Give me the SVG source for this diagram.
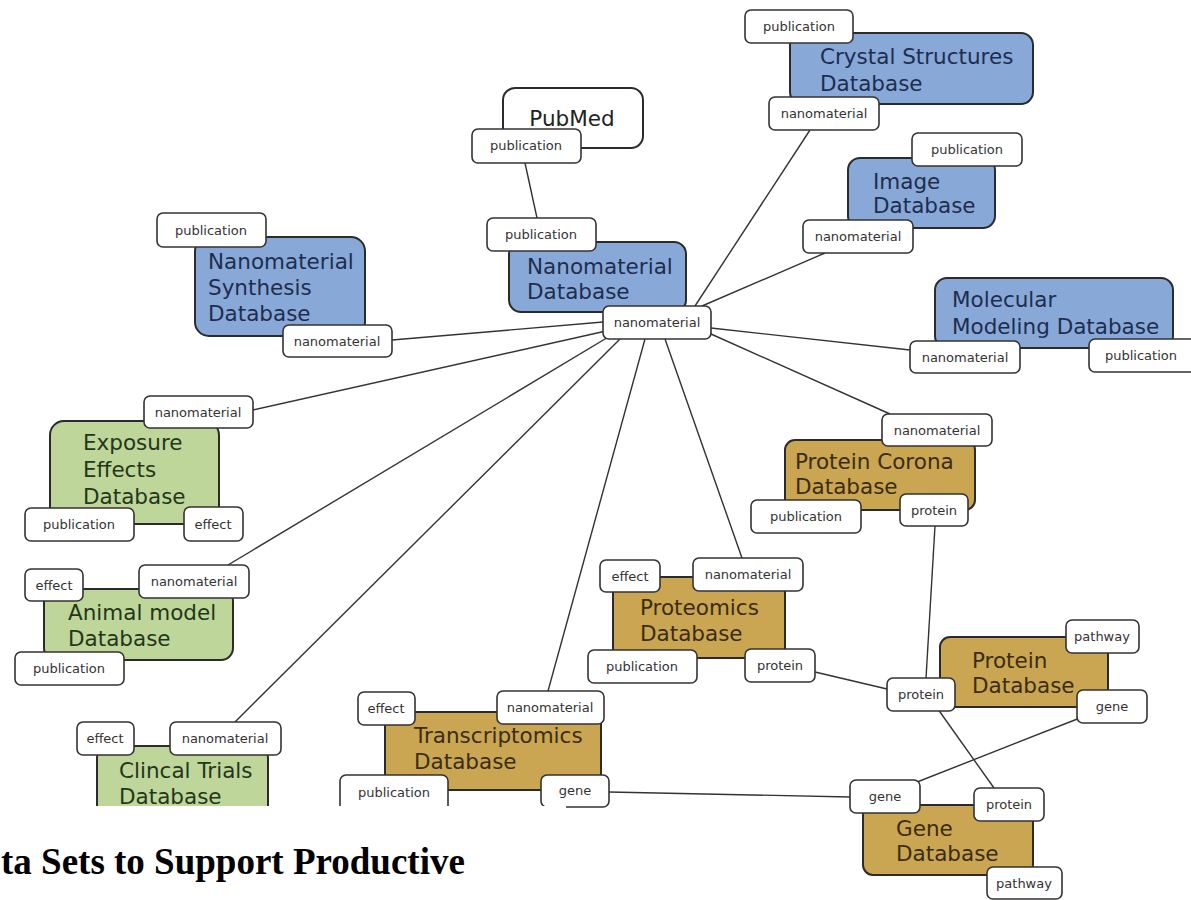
<svg xmlns="http://www.w3.org/2000/svg" width="1191" height="900" viewBox="0 0 1191 900">
<style>
.box{stroke:#2b2b2b;stroke-width:2}
.blue{fill:#88a9d8}
.green{fill:#bed699}
.gold{fill:#caa552}
.white{fill:#ffffff}
.t{font-family:"DejaVu Sans",sans-serif;font-size:21.5px}
.tb{fill:#1e2d4e}
.tg{fill:#24361a}
.to{fill:#3a2d10}
.tw{fill:#222}
.lab rect{fill:#fff;stroke:#333;stroke-width:1.6}
.lab text{font-family:"DejaVu Sans",sans-serif;font-size:13px;fill:#333;text-anchor:middle}
.conn line{stroke:#333;stroke-width:1.4}
</style>
<rect width="1191" height="900" fill="#fff"/>
<g id="connectors" class="conn">
<line x1="695" y1="306" x2="810" y2="130"/>
<line x1="702" y1="306" x2="825" y2="253"/>
<line x1="603" y1="322" x2="392" y2="340"/>
<line x1="711" y1="328" x2="910" y2="350"/>
<line x1="606" y1="331" x2="253" y2="410"/>
<line x1="610" y1="336" x2="228" y2="565"/>
<line x1="620" y1="339" x2="235" y2="722"/>
<line x1="645" y1="339" x2="548" y2="691"/>
<line x1="665" y1="339" x2="742" y2="558"/>
<line x1="711" y1="334" x2="890" y2="414"/>
<line x1="525" y1="163" x2="537" y2="218"/>
<line x1="935" y1="526" x2="926" y2="678"/>
<line x1="815" y1="672" x2="887" y2="689"/>
<line x1="609" y1="792" x2="850" y2="797"/>
<line x1="1085" y1="716" x2="912" y2="784"/>
<line x1="935" y1="705" x2="994" y2="788"/>
</g>
<g id="crystal">
<rect class="box blue" x="790" y="33" width="243" height="71" rx="12"/>
<text class="t tb" x="820" y="64">Crystal Structures</text>
<text class="t tb" x="820" y="91">Database</text>
<g class="lab"><rect x="745" y="10" width="108" height="33" rx="6"/><text x="799" y="31">publication</text></g>
<g class="lab"><rect x="769" y="97" width="110" height="33" rx="6"/><text x="824" y="118">nanomaterial</text></g>
</g>
<g id="pubmed">
<rect class="box white" x="503" y="88" width="140" height="60" rx="12"/>
<text class="t tw" x="572" y="126" text-anchor="middle">PubMed</text>
<g class="lab"><rect x="472" y="129" width="109" height="34" rx="6"/><text x="526" y="150">publication</text></g>
</g>
<g id="image">
<rect class="box blue" x="848" y="158" width="147" height="70" rx="12"/>
<text class="t tb" x="873" y="189">Image</text>
<text class="t tb" x="873" y="213">Database</text>
<g class="lab"><rect x="912" y="133" width="110" height="33" rx="6"/><text x="967" y="154">publication</text></g>
<g class="lab"><rect x="803" y="220" width="110" height="33" rx="6"/><text x="858" y="241">nanomaterial</text></g>
</g>
<g id="nanodb">
<rect class="box blue" x="509" y="242" width="177" height="70" rx="12"/>
<text class="t tb" x="527" y="274">Nanomaterial</text>
<text class="t tb" x="527" y="299">Database</text>
<g class="lab"><rect x="487" y="218" width="109" height="33" rx="6"/><text x="541" y="239">publication</text></g>
<g class="lab"><rect x="603" y="306" width="108" height="33" rx="6"/><text x="657" y="327">nanomaterial</text></g>
</g>
<g id="synthesis">
<rect class="box blue" x="195" y="237" width="170" height="99" rx="14"/>
<text class="t tb" x="208" y="269">Nanomaterial</text>
<text class="t tb" x="208" y="295">Synthesis</text>
<text class="t tb" x="208" y="321">Database</text>
<g class="lab"><rect x="157" y="213" width="109" height="34" rx="6"/><text x="211" y="235">publication</text></g>
<g class="lab"><rect x="283" y="325" width="109" height="32" rx="6"/><text x="337" y="346">nanomaterial</text></g>
</g>
<g id="molecular">
<rect class="box blue" x="935" y="278" width="238" height="70" rx="12"/>
<text class="t tb" x="952" y="307">Molecular</text>
<text class="t tb" x="952" y="334">Modeling Database</text>
<g class="lab"><rect x="910" y="341" width="110" height="32" rx="6"/><text x="965" y="362">nanomaterial</text></g>
<g class="lab"><rect x="1089" y="339" width="108" height="33" rx="6"/><text x="1141" y="360">publication</text></g>
</g>
<g id="exposure">
<rect class="box green" x="50" y="421" width="169" height="103" rx="14"/>
<text class="t tg" x="83" y="450">Exposure</text>
<text class="t tg" x="83" y="477">Effects</text>
<text class="t tg" x="83" y="504">Database</text>
<g class="lab"><rect x="144" y="396" width="109" height="32" rx="6"/><text x="198" y="417">nanomaterial</text></g>
<g class="lab"><rect x="25" y="508" width="109" height="33" rx="6"/><text x="79" y="529">publication</text></g>
<g class="lab"><rect x="184" y="507" width="59" height="34" rx="6"/><text x="213" y="529">effect</text></g>
</g>
<g id="animal">
<rect class="box green" x="44" y="589" width="189" height="71" rx="12"/>
<text class="t tg" x="68" y="620">Animal model</text>
<text class="t tg" x="68" y="646">Database</text>
<g class="lab"><rect x="25" y="569" width="58" height="32" rx="6"/><text x="54" y="590">effect</text></g>
<g class="lab"><rect x="139" y="565" width="110" height="33" rx="6"/><text x="194" y="586">nanomaterial</text></g>
<g class="lab"><rect x="15" y="652" width="109" height="33" rx="6"/><text x="69" y="673">publication</text></g>
</g>
<g id="clinical">
<rect class="box green" x="97" y="746" width="171" height="80" rx="12"/>
<text class="t tg" x="119" y="778">Clincal Trials</text>
<text class="t tg" x="119" y="804">Database</text>
<g class="lab"><rect x="77" y="722" width="57" height="33" rx="6"/><text x="105" y="743">effect</text></g>
<g class="lab"><rect x="170" y="722" width="111" height="33" rx="6"/><text x="225" y="743">nanomaterial</text></g>
</g>
<g id="transcriptomics">
<rect class="box gold" x="385" y="712" width="216" height="78" rx="10"/>
<text class="t to" x="414" y="743">Transcriptomics</text>
<text class="t to" x="414" y="769">Database</text>
<g class="lab"><rect x="358" y="692" width="57" height="33" rx="6"/><text x="386" y="713">effect</text></g>
<g class="lab"><rect x="497" y="691" width="107" height="33" rx="6"/><text x="550" y="712">nanomaterial</text></g>
<g class="lab"><rect x="340" y="775" width="108" height="40" rx="6"/><text x="394" y="797">publication</text></g>
<g class="lab"><rect x="541" y="775" width="68" height="32" rx="6"/><text x="575" y="795">gene</text></g>
</g>
<g id="proteomics">
<rect class="box gold" x="613" y="577" width="172" height="81" rx="8"/>
<text class="t to" x="640" y="615">Proteomics</text>
<text class="t to" x="640" y="641">Database</text>
<g class="lab"><rect x="600" y="560" width="60" height="32" rx="6"/><text x="630" y="581">effect</text></g>
<g class="lab"><rect x="693" y="558" width="110" height="33" rx="6"/><text x="748" y="579">nanomaterial</text></g>
<g class="lab"><rect x="588" y="650" width="109" height="33" rx="6"/><text x="642" y="671">publication</text></g>
<g class="lab"><rect x="745" y="649" width="70" height="33" rx="6"/><text x="780" y="670">protein</text></g>
</g>
<g id="corona">
<rect class="box gold" x="785" y="440" width="190" height="70" rx="10"/>
<text class="t to" x="795" y="469">Protein Corona</text>
<text class="t to" x="795" y="494">Database</text>
<g class="lab"><rect x="882" y="414" width="110" height="32" rx="6"/><text x="937" y="435">nanomaterial</text></g>
<g class="lab"><rect x="751" y="500" width="110" height="33" rx="6"/><text x="806" y="521">publication</text></g>
<g class="lab"><rect x="900" y="494" width="68" height="32" rx="6"/><text x="934" y="515">protein</text></g>
</g>
<g id="protein">
<rect class="box gold" x="940" y="637" width="168" height="70" rx="10"/>
<text class="t to" x="972" y="668">Protein</text>
<text class="t to" x="972" y="693">Database</text>
<g class="lab"><rect x="1066" y="620" width="73" height="33" rx="6"/><text x="1102" y="641">pathway</text></g>
<g class="lab"><rect x="887" y="678" width="68" height="33" rx="6"/><text x="921" y="699">protein</text></g>
<g class="lab"><rect x="1077" y="690" width="70" height="33" rx="6"/><text x="1112" y="711">gene</text></g>
</g>
<g id="gene">
<rect class="box gold" x="863" y="805" width="170" height="70" rx="10"/>
<text class="t to" x="896" y="836">Gene</text>
<text class="t to" x="896" y="861">Database</text>
<g class="lab"><rect x="850" y="780" width="70" height="33" rx="6"/><text x="885" y="801">gene</text></g>
<g class="lab"><rect x="974" y="788" width="70" height="33" rx="6"/><text x="1009" y="809">protein</text></g>
<g class="lab"><rect x="987" y="867" width="75" height="32" rx="6"/><text x="1024" y="888">pathway</text></g>
</g>
<rect x="0" y="806" width="566" height="94" fill="#fff"/>
<text x="1" y="874" font-family="Liberation Serif, serif" font-size="37" font-weight="bold" fill="#000">ta Sets to Support Productive</text>
</svg>
